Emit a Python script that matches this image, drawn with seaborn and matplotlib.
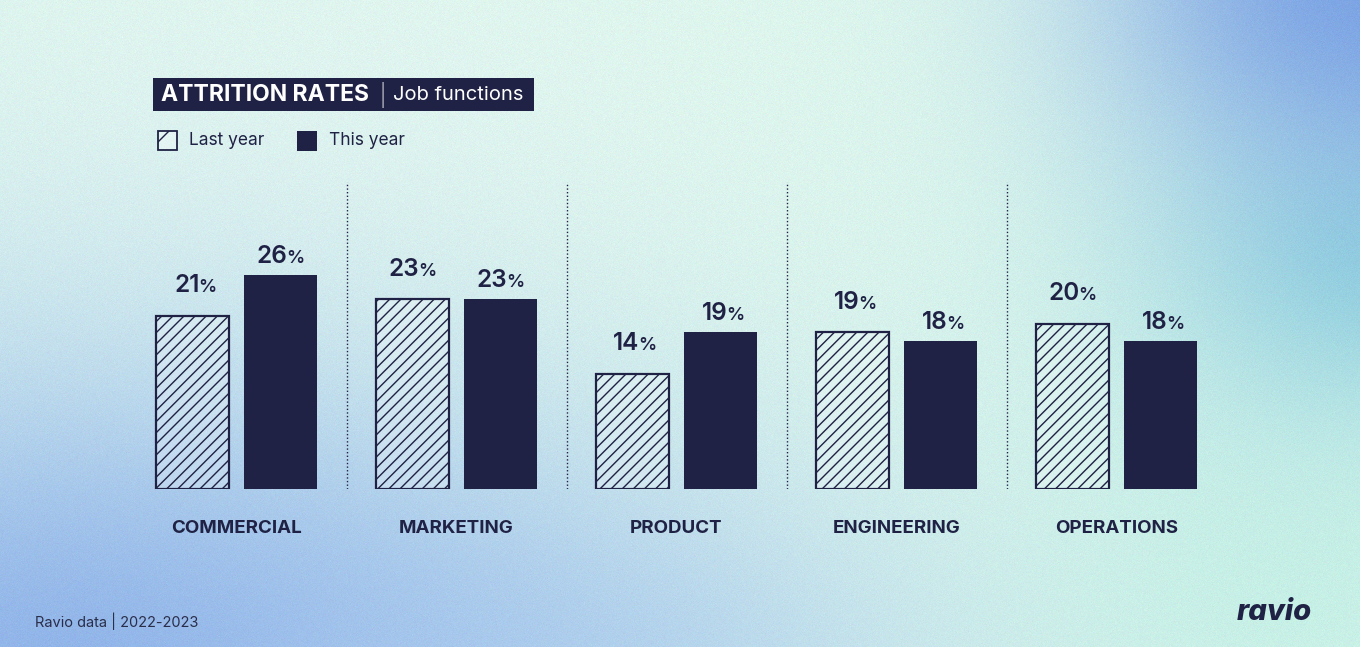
import numpy as np
import pandas as pd
import matplotlib
matplotlib.use("Agg")
import matplotlib.pyplot as plt
from matplotlib.patches import Rectangle
import seaborn as sns

# ---------------- data ----------------
categories = ["COMMERCIAL", "MARKETING", "PRODUCT", "ENGINEERING", "OPERATIONS"]
last_year = [21, 23, 14, 19, 20]
this_year = [26, 23, 19, 18, 18]
series_names = ["Last year", "This year"]
title_bold = "ATTRITION RATES"
title_light = "Job functions"
footer = "Ravio data | 2022-2023"
logo = "ravio"

NAVY = "#1F2244"
W, H = 1360, 647
DPI = 100

sns.set_theme(style="white")
plt.rcParams["font.family"] = ["Inter", "DejaVu Sans"]
plt.rcParams["hatch.linewidth"] = 1.0
plt.rcParams["hatch.color"] = NAVY

df = pd.DataFrame({
    "category": categories * 2,
    "year": [series_names[0]] * len(categories) + [series_names[1]] * len(categories),
    "value": last_year + this_year,
})

fig = plt.figure(figsize=(W / DPI, H / DPI), dpi=DPI)

# ---------------- background gradient ----------------
yy, xx = np.mgrid[0:H, 0:W].astype(float)
img = np.ones((H, W, 3)) * np.array([220, 246, 236]) / 255.0


def mix(img, color, w):
    c = np.array(color) / 255.0
    w = np.clip(w, 0, 1)[..., None]
    return img * (1 - w) + c * w


def blob(cx, cy, rx, ry, p=2.0):
    d = np.sqrt(((xx - cx) / rx) ** 2 + ((yy - cy) / ry) ** 2)
    return np.exp(-d ** p)

img = mix(img, [232, 248, 242], 0.6 * blob(300, 120, 500, 260))
img = mix(img, [185, 215, 238], 0.7 * blob(0, 560, 520, 330, 1.6))
img = mix(img, [138, 175, 232], 0.95 * blob(80, 680, 560, 250, 1.8))
img = mix(img, [165, 198, 238], 0.55 * blob(500, 700, 380, 190))
img = mix(img, [140, 205, 222], 0.9 * blob(1380, 260, 240, 190, 1.8))
img = mix(img, [122, 162, 228], 0.98 * blob(1400, -30, 300, 220, 2.4))
img = mix(img, [175, 235, 222], 0.4 * blob(1300, 600, 300, 200))
rng = np.random.default_rng(0)
img = np.clip(img + rng.normal(0, 0.012, img.shape), 0, 1)

bg = fig.add_axes([0, 0, 1, 1], zorder=-10)
bg.imshow(img, aspect="auto", extent=(0, W, H, 0))
bg.set_xlim(0, W)
bg.set_ylim(H, 0)
bg.axis("off")

# ---------------- main axes ----------------
px_per_unit = 8.25
base_px = 489
group0 = 236.5
spacing = 220
left_px = group0 - spacing / 2
ymax = 40
ax = fig.add_axes([left_px / W, (H - base_px) / H, 5 * spacing / W, ymax * px_per_unit / H])
ax.set_facecolor("none")

sns.barplot(data=df, x="category", y="value", hue="year", hue_order=series_names,
            order=categories, palette=[NAVY, NAVY], width=0.8, gap=0.17,
            saturation=1, legend=False, ax=ax)

for bar in ax.containers[0]:
    bar.set_facecolor((1, 1, 1, 0.25))
    bar.set_edgecolor(NAVY)
    bar.set_linewidth(1.6)
    bar.set_hatch("///")
for bar in ax.containers[1]:
    bar.set_edgecolor("none")

ax.set_xlim(-0.5, 4.5)
ax.set_ylim(0, ymax)
ax.set_xlabel("")
ax.set_ylabel("")
ax.set_yticks([])
for s in ax.spines.values():
    s.set_visible(False)
ax.tick_params(axis="x", length=0, pad=22)
for lab in ax.get_xticklabels():
    lab.set_fontweight("bold")
    lab.set_fontsize(13.5)
    lab.set_color(NAVY)

# dotted dividers
ax.vlines([0.5, 1.5, 2.5, 3.5], 0, 37.2, colors=NAVY, linestyles=(0, (1, 1.6)), linewidth=1)

# value labels
for ci, (cont, off) in enumerate(zip(ax.containers, [17, 8.5])):
    for bar in cont:
        v = bar.get_height()
        xc = bar.get_x() + bar.get_width() / 2
        ax.annotate(f"{v:.0f}", (xc, v), xytext=(5, off), textcoords="offset points",
                    ha="right", va="baseline", fontsize=17.5, fontweight="semibold",
                    color=NAVY, annotation_clip=False)
        ax.annotate("%", (xc, v), xytext=(4.0, off), textcoords="offset points",
                    ha="left", va="baseline", fontsize=13, fontweight="semibold",
                    color=NAVY, annotation_clip=False)

# ---------------- title box ----------------
def fx(px):
    return px / W


def fy(py):
    return 1 - py / H

fig.patches.append(Rectangle((fx(153), fy(111)), fx(534) - fx(153), (111 - 78) / H,
                             transform=fig.transFigure, facecolor=NAVY, edgecolor="none",
                             zorder=1))
fig.text(fx(161), fy(95), title_bold, color="white", fontsize=16.5, fontweight="bold",
         ha="left", va="center", zorder=2)
fig.text(fx(382), fy(95), "|", color="white", fontsize=15, fontweight="light",
         ha="center", va="center", zorder=2)
fig.text(fx(393), fy(95), title_light, color="white", fontsize=14.5,
         ha="left", va="center", zorder=2)

# ---------------- legend ----------------
fig.patches.append(Rectangle((fx(158), fy(150)), 19 / W, 19 / H, transform=fig.transFigure,
                             facecolor=(1, 1, 1, 0.25), edgecolor=NAVY, linewidth=1.3,
                             hatch="/", zorder=2))
fig.text(fx(189), fy(141), series_names[0], color=NAVY, fontsize=12.5,
         ha="left", va="center")
fig.patches.append(Rectangle((fx(297), fy(151)), 20 / W, 20 / H, transform=fig.transFigure,
                             facecolor=NAVY, edgecolor="none", zorder=2))
fig.text(fx(329), fy(141), series_names[1], color=NAVY, fontsize=12.5,
         ha="left", va="center")

# ---------------- footer ----------------
fig.text(fx(35), fy(621), footer, color="#2A2E4A", fontsize=10.5, ha="left", va="center")
fig.text(fx(1312), fy(613), logo, color=NAVY, fontsize=21, fontweight="heavy",
         fontstyle="italic", ha="right", va="center")

fig.savefig("out.png", dpi=DPI)
